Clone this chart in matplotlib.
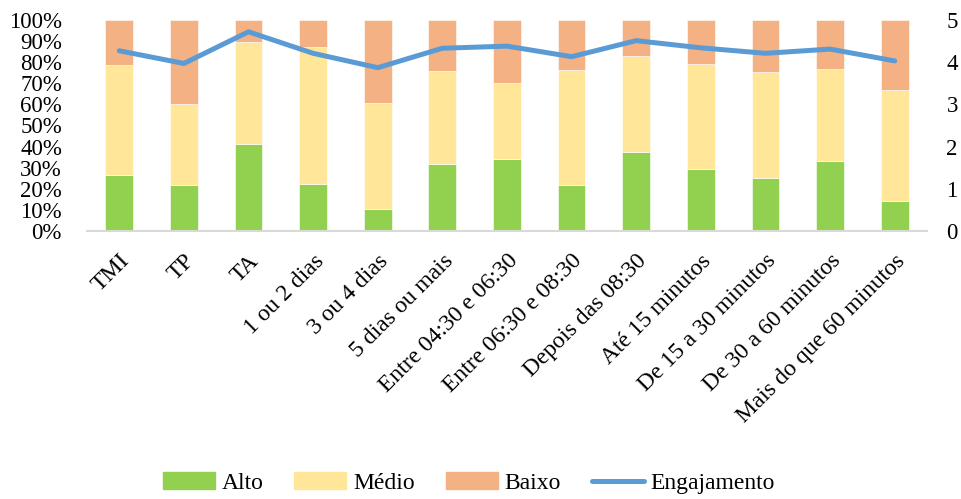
import numpy as np
import matplotlib.pyplot as plt
from matplotlib.lines import Line2D
from matplotlib.patches import Patch

plt.rcParams["font.family"] = ["Liberation Serif", "DejaVu Serif"]

categories = ["TMI", "TP", "TA", "1 ou 2 dias", "3 ou 4 dias", "5 dias ou mais",
              "Entre 04:30 e 06:30", "Entre 06:30 e 08:30", "Depois das 08:30",
              "Até 15 minutos", "De 15 a 30 minutos", "De 30 a 60 minutos",
              "Mais do que 60 minutos"]
alto = [26.7, 21.8, 41.2, 22.3, 10.3, 31.6, 34.1, 21.6, 37.3, 29.4, 25.1, 33.2, 14.2]
alto_medio = [78.7, 60.2, 89.6, 87.2, 60.8, 75.8, 70.0, 76.3, 82.8, 79.0, 75.4, 76.6, 66.7]
engajamento = [4.27, 3.97, 4.72, 4.21, 3.87, 4.33, 4.38, 4.13, 4.51, 4.34, 4.21, 4.31, 4.03]

alto = np.array(alto) / 100
medio = np.array(alto_medio) / 100 - alto
baixo = 1 - alto - medio

c_alto, c_medio, c_baixo, c_line = "#92D050", "#FFE699", "#F4B183", "#5B9BD5"

fig, ax = plt.subplots(figsize=(9.61, 4.99), dpi=100)
fig.subplots_adjust(left=0.0905, right=0.9646, top=0.96, bottom=0.537)

x = np.arange(len(categories))
w = 0.43
ax.bar(x, alto, w, color=c_alto, edgecolor="white", linewidth=0.4)
ax.bar(x, medio, w, bottom=alto, color=c_medio, edgecolor="white", linewidth=0.4)
ax.bar(x, baixo, w, bottom=alto + medio, color=c_baixo, edgecolor="white", linewidth=0.4)

ax.set_xlim(-0.5, len(categories) - 0.5)
ax.set_ylim(0, 1)
ax.set_yticks(np.arange(0, 1.01, 0.1))
ax.set_yticklabels([f"{int(round(v * 100))}%" for v in np.arange(0, 1.01, 0.1)])
ax.set_xticks(x)
ax.set_xticklabels(categories, rotation=45, ha="right", rotation_mode="anchor")
ax.tick_params(axis="y", length=0, labelsize=16.5, pad=18)
ax.tick_params(axis="x", length=0, labelsize=17, pad=14)
for s in ["top", "right", "left"]:
    ax.spines[s].set_visible(False)
ax.spines["bottom"].set_color("#D9D9D9")
ax.spines["bottom"].set_linewidth(1.5)

ax2 = ax.twinx()
ax2.plot(x, engajamento, color=c_line, linewidth=3.6, solid_capstyle="round")
ax2.set_ylim(0, 5)
ax2.set_yticks(range(6))
ax2.tick_params(axis="y", length=0, labelsize=16.5, pad=14)
for s in ax2.spines.values():
    s.set_visible(False)

handles = [Patch(color=c_alto), Patch(color=c_medio), Patch(color=c_baixo),
           Line2D([], [], color=c_line, linewidth=3.6, solid_capstyle="round")]
fig.legend(handles, ["Alto", "Médio", "Baixo", "Engajamento"], loc="center",
           bbox_to_anchor=(0.488, 0.032), ncol=4, frameon=False, fontsize=17,
           handlelength=2.2, handletextpad=0.3, columnspacing=1.3)

fig.savefig("out.png", dpi=100)
